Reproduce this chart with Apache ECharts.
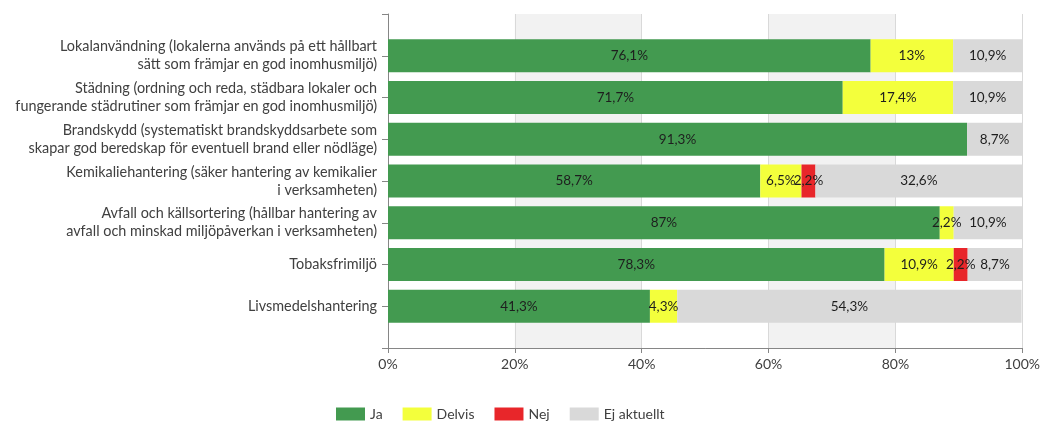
<!DOCTYPE html>
<html>
<head>
<meta charset="utf-8">
<script src="https://cdn.jsdelivr.net/npm/echarts@6/dist/echarts.min.js"></script>
<style>html,body{margin:0;padding:0;background:#fff}#c{width:1043px;height:421px}</style>
</head>
<body>
<div id="c"></div>
<script>
const categories = [
  'Lokalanvändning (lokalerna används på ett hållbart\nsätt som främjar en god inomhusmiljö)',
  'Städning (ordning och reda, städbara lokaler och\nfungerande städrutiner som främjar en god inomhusmiljö)',
  'Brandskydd (systematiskt brandskyddsarbete som\nskapar god beredskap för eventuell brand eller nödläge)',
  'Kemikaliehantering (säker hantering av kemikalier\ni verksamheten)',
  'Avfall och källsortering (hållbar hantering av\navfall och minskad miljöpåverkan i verksamheten)',
  'Tobaksfrimiljö',
  'Livsmedelshantering'
];
const seriesNames = ['Ja', 'Delvis', 'Nej', 'Ej aktuellt'];
const ja        = [76.1, 71.7, 91.3, 58.7, 87.0, 78.3, 41.3];
const delvis    = [13.0, 17.4, 0,    6.5,  2.2,  10.9, 4.3];
const nej       = [0,    0,    0,    2.2,  0,    2.2,  0];
const ejAktuellt= [10.9, 10.9, 8.7,  32.6, 10.9, 8.7,  54.3];
const xTicks = [0, 20, 40, 60, 80, 100];
const colors = ['#439a50', '#f3ff3c', '#e8262a', '#d9d9d9'];

const pad = arr => [null].concat(arr, [null]);
const yCats = [''].concat(categories, ['']);
const fmt = v => String(v).replace('.', ',') + '%';
const FONT = 'Lato';

const chart = echarts.init(document.getElementById('c'), null, {renderer: 'canvas'});
const values = [ja, delvis, nej, ejAktuellt];
chart.setOption({
  animation: false,
  textStyle: {fontFamily: FONT},
  color: colors,
  grid: {left: 388, right: 16, top: 14, bottom: 73, containLabel: false},
  legend: {
    left: 336, top: 407, itemWidth: 29, itemHeight: 13, itemGap: 20,
    icon: 'rect', padding: 0,
    textStyle: {fontFamily: FONT, fontSize: 14, color: '#404040'},
    data: seriesNames
  },
  xAxis: {
    type: 'value', min: 0, max: 100, interval: 20,
    axisLine: {show: true, lineStyle: {color: '#868686'}},
    axisTick: {show: true, length: 5, lineStyle: {color: '#868686'}},
    axisLabel: {formatter: v => xTicks.includes(v) ? v + '%' : '', fontSize: 14, color: '#404040', margin: 9, fontFamily: FONT},
    splitLine: {show: true, lineStyle: {color: '#d9d9d9', width: 1}},
    splitArea: {show: true, areaStyle: {color: ['#ffffff', '#f2f2f2']}}
  },
  yAxis: {
    type: 'category', inverse: true, boundaryGap: false, data: yCats,
    axisLine: {show: true, lineStyle: {color: '#868686'}},
    axisTick: {show: true, length: 6, inside: false, lineStyle: {color: '#868686'}},
    axisLabel: {fontSize: 14.4, color: '#404040', lineHeight: 18, margin: 11, fontFamily: FONT, interval: 0},
    splitLine: {show: false}
  },
  series: seriesNames.map((n, i) => ({
    name: n, type: 'bar', stack: 'all', barWidth: 33,
    data: pad(values[i]),
    itemStyle: {color: colors[i]},
    label: {
      show: true, position: 'inside', color: '#1e1e1e', fontSize: 13.5, fontFamily: FONT,
      formatter: p => (p.value > 0 ? fmt(p.value) : '')
    }
  }))
});
</script>
</body>
</html>
